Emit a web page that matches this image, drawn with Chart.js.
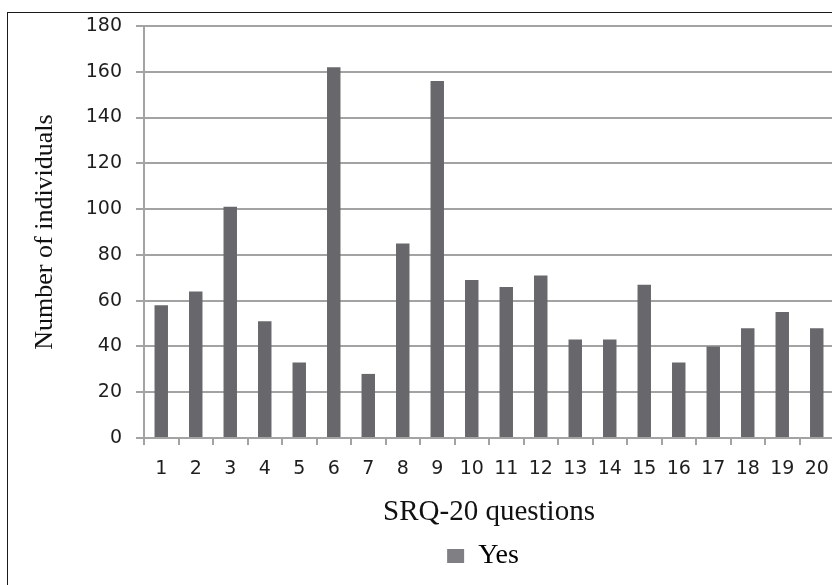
<!DOCTYPE html>
<html>
<head>
<meta charset="utf-8">
<script src="https://cdn.jsdelivr.net/npm/chart.js@4.4.1/dist/chart.umd.min.js"></script>
<style>
  html, body { margin: 0; padding: 0; background: #fff; overflow: hidden; }
  #wrap { position: absolute; left: 0; top: 0; width: 850px; height: 585px; }
  #frame { position: absolute; left: 7px; top: 12px; width: 900px; height: 700px;
           border-left: 1px solid #1a1a1a; border-top: 1px solid #1a1a1a; }
</style>
</head>
<body>
<div id="frame"></div>
<div id="wrap"><canvas id="c" width="850" height="585"></canvas></div>
<script>
const categories = ['1','2','3','4','5','6','7','8','9','10','11','12','13','14','15','16','17','18','19','20'];
const yesValues = [58, 64, 101, 51, 33, 162, 28, 85, 156, 69, 66, 71, 43, 43, 67, 33, 40, 48, 55, 48];
const seriesName = 'Yes';
const yTitle = 'Number of individuals';
const xTitle = 'SRQ-20 questions';

const tickFont = { family: '"DejaVu Sans", Verdana, sans-serif', size: 19 };
const serif = '"Liberation Serif", "Times New Roman", serif';

const legendShift = {
  id: 'legendShift',
  afterLayout(chart) {
    const lg = chart.legend;
    if (lg) { lg.left = 132; lg.right = 834; }
  }
};

new Chart(document.getElementById('c'), {
  type: 'bar',
  data: {
    labels: categories,
    datasets: [{
      label: seriesName,
      data: yesValues,
      backgroundColor: '#68686c',
      borderWidth: 0,
      barPercentage: 0.39,
      categoryPercentage: 1.0
    }]
  },
  options: {
    responsive: false,
    animation: false,
    events: [],
    layout: { padding: { left: 8, right: 16, top: 26, bottom: 5 } },
    plugins: {
      tooltip: { enabled: false },
      legend: {
        position: 'bottom',
        labels: {
          boxWidth: 17, boxHeight: 14, padding: 10,
          color: '#111',
          font: { family: serif, size: 28 },
          generateLabels(chart) {
            return [{ text: seriesName, fillStyle: '#808084', strokeStyle: '#808084', lineWidth: 0, datasetIndex: 0 }];
          }
        }
      }
    },
    scales: {
      x: {
        grid: { display: true, drawOnChartArea: false, drawTicks: true, tickLength: 7, color: '#a3a3a3', lineWidth: 2, offset: true },
        border: { display: true, color: '#a3a3a3', width: 2 },
        ticks: { color: '#1e1e1e', font: tickFont, padding: 13, maxRotation: 0, autoSkip: false },
        title: { display: true, text: xTitle, color: '#111', font: { family: serif, size: 29 }, padding: { top: 4, bottom: 2 } },
        afterFit(scale) { scale.height = 94; }
      },
      y: {
        min: 0, max: 180,
        ticks: { stepSize: 20, color: '#1e1e1e', font: tickFont, padding: 14 },
        grid: { color: '#a3a3a3', lineWidth: 2, tickLength: 8, drawTicks: true },
        border: { display: true, color: '#a3a3a3', width: 2 },
        title: { display: true, text: yTitle, color: '#111', font: { family: serif, size: 26 }, padding: { top: 22, bottom: 0 } },
        afterFit(scale) { scale.width = 136; }
      }
    }
  },
  plugins: [legendShift]
});
</script>
</body>
</html>
